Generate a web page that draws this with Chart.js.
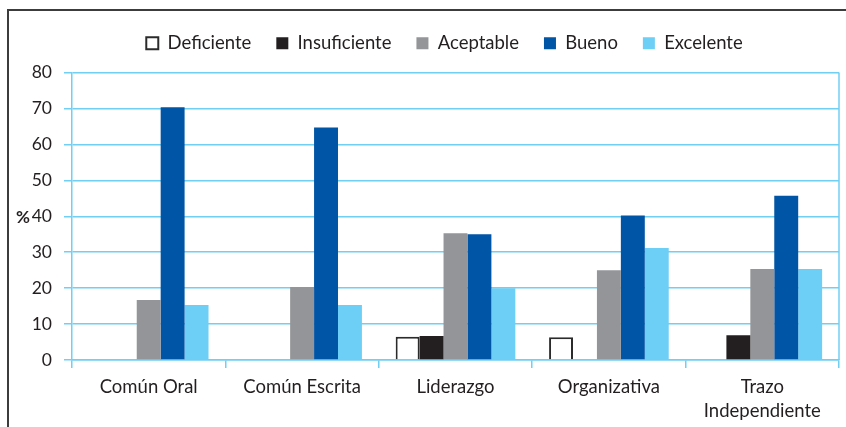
<!DOCTYPE html>
<html>
<head>
<meta charset="utf-8">
<script src="https://cdn.jsdelivr.net/npm/chart.js@4.4.1/dist/chart.umd.min.js"></script>
<style>
    html, body { margin: 0; padding: 0; background: #fff; }
    #wrap { position: relative; width: 846px; height: 427px; overflow: hidden; }
    #frame {
        position: absolute; left: 7px; top: 9px; width: 860px; height: 440px;
        border-top: 2px solid #3c3c3c; border-left: 2px solid #3c3c3c;
    }
    #chart { position: absolute; left: 0; top: 0; }
</style>
</head>
<body>
<div id="wrap">
    <div id="frame"></div>
    <canvas id="chart" width="846" height="427"></canvas>
</div>
<script>
// Categories and series (percent)
const categories = ['Común Oral', 'Común Escrita', 'Liderazgo', 'Organizativa', ['Trazo', 'Independiente']];
const deficiente   = [null, null, 6.5, 6.3, null];
const insuficiente = [null, null, 6.7, null, 6.9];
const aceptable    = [16.7, 20.3, 35.3, 25.0, 25.3];
const bueno        = [70.3, 64.7, 35.0, 40.2, 45.7];
const excelente    = [15.3, 15.3, 20.0, 31.2, 25.3];
const yTicks = [0, 10, 20, 30, 40, 50, 60, 70, 80];

const gridColor = '#6fcff4';
const textColor = '#231f20';
const font = 'Lato';

// legend spacing, right border of the plot, and the "%" axis label
const extras = {
    id: 'extras',
    beforeLayout(chart) {
        const lg = chart.legend;
        if (lg && !lg._patched) {
            const fit = lg.fit;
            lg.fit = function() { fit.call(this); this.height += 10; };
            lg._patched = true;
        }
    },
    afterLayout(chart) {
        // legend sits a bit right of the canvas centre
        if (chart.legend) chart.legend.left += 50;
    },
    afterDraw(chart) {
        const { ctx, chartArea, scales } = chart;
        ctx.save();
        ctx.strokeStyle = gridColor;
        ctx.lineWidth = 1.5;
        ctx.beginPath();
        ctx.moveTo(chartArea.right, chartArea.top);
        ctx.lineTo(chartArea.right, chartArea.bottom);
        ctx.stroke();
        ctx.fillStyle = textColor;
        ctx.font = 'bold 17px ' + font;
        ctx.textAlign = 'left';
        ctx.textBaseline = 'middle';
        ctx.fillText('%', 16, scales.y.getPixelForValue(40) + 1);
        ctx.restore();
    }
};

function bar(label, data, color, border, bw) {
    return {
        label: label,
        data: data,
        backgroundColor: color,
        borderColor: border,
        borderWidth: bw,
        barPercentage: 1,
        categoryPercentage: 0.78
    };
}

new Chart(document.getElementById('chart'), {
    type: 'bar',
    data: {
        labels: categories,
        datasets: [
            bar('Deficiente', deficiente, '#ffffff', '#2b2b2b', 2),
            bar('Insuficiente', insuficiente, '#231f20', '#231f20', 0),
            bar('Aceptable', aceptable, '#939598', '#939598', 0),
            bar('Bueno', bueno, '#0055a6', '#0055a6', 0),
            bar('Excelente', excelente, '#6dcff6', '#6dcff6', 0)
        ]
    },
    options: {
        responsive: false,
        animation: false,
        layout: { padding: { top: 9, right: 7, left: 0, bottom: 0 } },
        plugins: {
            legend: {
                position: 'top',
                labels: {
                    boxWidth: 12,
                    boxHeight: 12,
                    padding: 25,
                    color: textColor,
                    font: { family: font, size: 18.5 }
                }
            },
            tooltip: { enabled: false }
        },
        scales: {
            x: {
                grid: {
                    drawOnChartArea: false,
                    tickLength: 8,
                    color: gridColor,
                    lineWidth: 1.5
                },
                border: { color: gridColor, width: 1.5 },
                ticks: {
                    color: textColor,
                    padding: 7,
                    maxRotation: 0,
                    font: { family: font, size: 18.5, lineHeight: 1.3 }
                },
                afterFit: function(scale) { scale.height = 67; }
            },
            y: {
                min: 0,
                max: 80,
                afterBuildTicks: function(scale) {
                    scale.ticks = yTicks.map(v => ({ value: v }));
                },
                grid: {
                    color: gridColor,
                    lineWidth: 1.5,
                    tickLength: 8
                },
                border: { color: gridColor, width: 1.5 },
                ticks: {
                    color: textColor,
                    padding: 12,
                    font: { family: font, size: 17.5 }
                },
                afterFit: function(scale) { scale.width = 72; }
            }
        }
    },
    plugins: [extras]
});
</script>
</body>
</html>
